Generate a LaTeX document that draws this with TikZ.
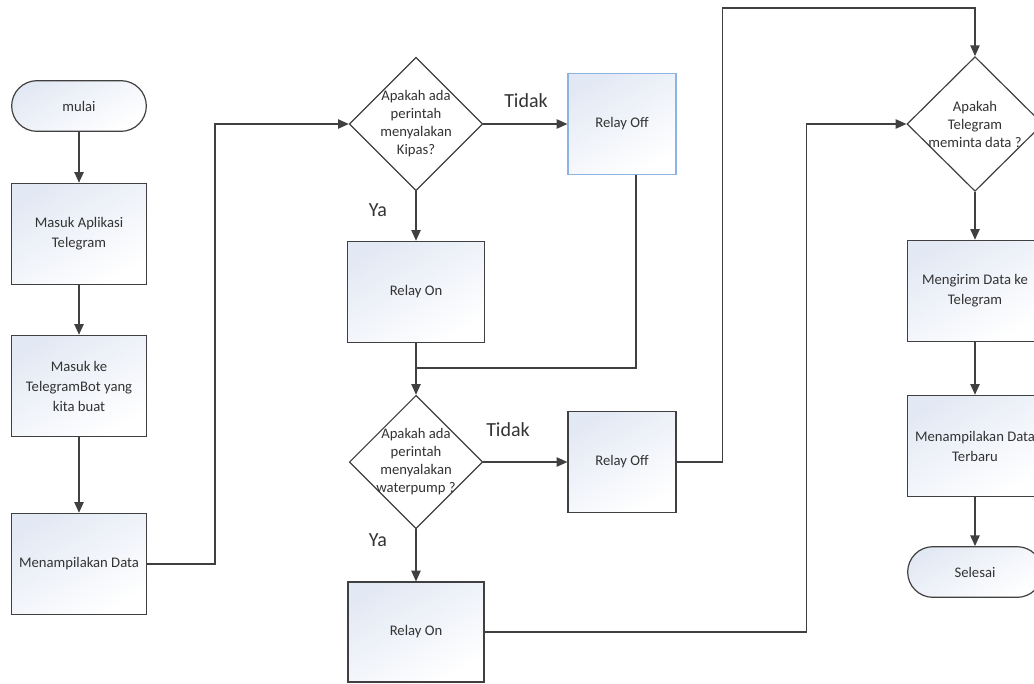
\documentclass[tikz,border=0pt]{standalone}
\usepackage{fontspec}
\setmainfont{Carlito}
\usetikzlibrary{arrows.meta,shapes.geometric}
\definecolor{linegray}{HTML}{404040}
\definecolor{textgray}{HTML}{333333}
\definecolor{boxblue}{HTML}{E3E9F4}
\definecolor{edgeblue}{HTML}{8DB3E2}
\tikzset{
    box/.style={draw=linegray, line width=0.9pt, top color=boxblue, bottom color=white, shading angle=30,
        minimum width=101pt, minimum height=76pt, align=center, text=textgray, font=\fontsize{11}{15}\selectfont},
    term/.style={box, minimum height=38pt, rounded corners=19pt},
    decision/.style={diamond, draw=linegray, line width=0.9pt, fill=white, inner sep=0pt,
        minimum width=100pt, minimum height=100pt},
    dtext/.style={align=center, text=textgray, font=\fontsize{11}{13.5}\selectfont},
    answer/.style={text=textgray, font=\fontsize{15}{18}\selectfont},
    flow/.style={draw=linegray, line width=0.9pt, -{Triangle[length=8pt,width=7pt]}},
    link/.style={draw=linegray, line width=0.9pt}
}
\begin{document}
\begin{tikzpicture}[x=0.75pt, y=-0.75pt]
        \useasboundingbox (0,0) rectangle (1034,683);
        % Left column
        \node[term] (mulai) at (79,106) {mulai};
        \node[box] (aplikasi) at (79,234) {Masuk Aplikasi\\Telegram};
        \node[box] (bot) at (79,386) {Masuk ke\\TelegramBot yang\\kita buat};
        \node[box] (tampil) at (79,564) {Menampilakan Data};
        % Middle column
        \node[decision, label={[dtext]center:Apakah ada\\perintah\\menyalakan\\Kipas?}] (kipas) at (416,124) {};
        \node[box, draw=edgeblue, minimum width=81pt] (offkipas) at (622,124) {Relay Off};
        \node[box, minimum width=103pt] (onkipas) at (416,292) {Relay On};
        \node[decision, label={[dtext]center:Apakah ada\\perintah\\menyalakan\\waterpump ?}] (pump) at (416,462) {};
        \node[box, minimum width=81pt] (offpump) at (622,462) {Relay Off};
        \node[box, minimum width=102pt, minimum height=75pt] (onpump) at (416,632) {Relay On};
        % Right column
        \node[decision, minimum width=102pt, minimum height=101pt, label={[dtext]center:Apakah\\Telegram\\meminta data ?}] (minta) at (975,124) {};
        \node[box] (kirim) at (975,291) {Mengirim Data ke\\Telegram};
        \node[box] (terbaru) at (975,446) {Menampilakan Data\\Terbaru};
        \node[term] (selesai) at (975,572) {Selesai};
        % Answers
        \node[answer] (tidak1) at (526,101) {Tidak};
        \node[answer] (ya1) at (378,210) {Ya};
        \node[answer] (tidak2) at (508,430) {Tidak};
        \node[answer] (ya2) at (378,540) {Ya};
        % Helper points
        \coordinate (gabung) at (416,368);
        \coordinate (atas) at (0,8);
        % Connectors
        \draw[flow] (mulai) -- (aplikasi);
        \draw[flow] (aplikasi) -- (bot);
        \draw[flow] (bot) -- (tampil);
        \draw[flow] (tampil.east) -- ++(68,0) |- (kipas.west);
        \draw[flow] (kipas.east) -- (offkipas.west);
        \draw[flow] (kipas.south) -- (onkipas.north);
        \draw[link] ([xshift=10.5pt]offkipas.south) |- (gabung);
        \draw[flow] (onkipas.south) -- (pump.north);
        \draw[flow] (pump.east) -- (offpump.west);
        \draw[flow] (pump.south) -- (onpump.north);
        \draw[flow] (offpump.east) -- ++(46,0) |- (minta.north |- atas) -- (minta.north);
        \draw[flow] (onpump.east) -- ++(322,0) |- (minta.west);
        \draw[flow] (minta.south) -- (kirim.north);
        \draw[flow] (kirim) -- (terbaru);
        \draw[flow] (terbaru) -- (selesai);
    \end{tikzpicture}
\end{document}
